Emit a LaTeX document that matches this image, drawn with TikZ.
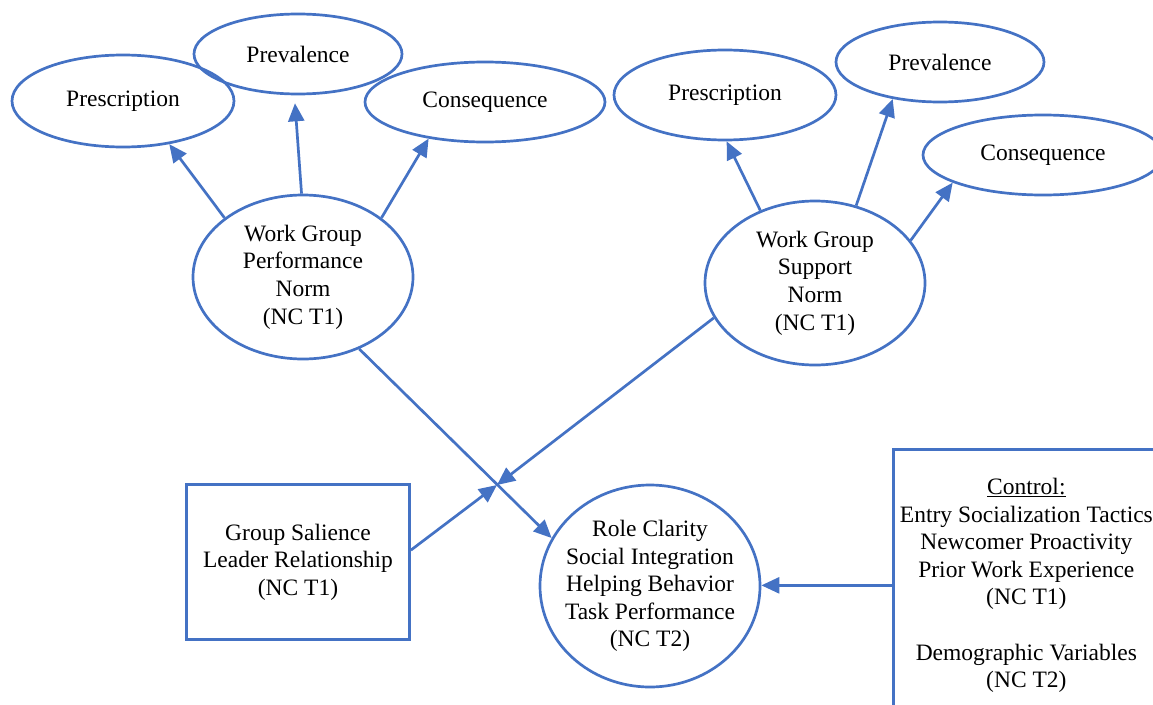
\documentclass[tikz,border=0pt]{standalone}
\usepackage{fontspec}
\setmainfont{Liberation Serif}
\usetikzlibrary{shapes.geometric,arrows.meta}
\definecolor{normblue}{HTML}{4472C4}

\begin{document}
\begin{tikzpicture}[x=1pt, y=-1pt, line width=2.7pt,
  font=\fontsize{23.5}{27.6}\selectfont,
  oval/.style={ellipse, draw=normblue, inner sep=0pt, align=center},
  box/.style={rectangle, draw=normblue, inner sep=0pt, align=center},
  conn/.style={draw=normblue, -{Stealth[length=18pt, width=16pt, inset=0pt]}}]
\clip (0,0) rectangle (1153,704);

% performance norm and its facets
\node[oval, minimum width=220, minimum height=164] (perf) at (303,277) {Work Group\\Performance\\Norm\\(NC T1)};
\node[oval, minimum width=222, minimum height=92] (presL) at (123,101) {Prescription};
\node[oval, minimum width=208, minimum height=80] (prevL) at (298,54) {Prevalence};
\node[oval, minimum width=240, minimum height=80] (consL) at (485,102) {Consequence};

% support norm and its facets
\node[oval, minimum width=220, minimum height=164] (supp) at (815,283) {Work Group\\Support\\Norm\\(NC T1)};
\node[oval, minimum width=222, minimum height=90] (presR) at (725,95) {Prescription};
\node[oval, minimum width=208, minimum height=80] (prevR) at (940,62) {Prevalence};
\node[oval, minimum width=240, minimum height=80] (consR) at (1043,155) {Consequence};

% moderator, outcomes, controls
\node[box, minimum width=223, minimum height=155] (gs) at (298,562) {Group Salience\\Leader Relationship\\(NC T1)};
\node[oval, minimum width=220, minimum height=202] (out) at (650,586) {};
\node[align=center] at (out) {Role Clarity\\Social Integration\\Helping Behavior\\Task Performance\\(NC T2)};
\node[box, minimum width=266, minimum height=272, anchor=north west] (ctl) at (892,448)
  {\underline{Control:}\\Entry Socialization Tactics\\Newcomer Proactivity\\Prior Work Experience\\(NC T1)\\[27.6pt]Demographic Variables\\(NC T2)};
\coordinate (meet) at (497,485);

\draw[conn] (perf.143) -- (presL.-43);
\draw[conn, shorten >=8pt] (perf.91) -- (prevL.-95);
\draw[conn] (perf.37) -- (consL.213);
\draw[conn] (supp.127) -- (presR.-88);
\draw[conn] (supp.62) -- (prevR.218);
\draw[conn] (supp.24) -- (consR.197);
\draw[conn] (perf.-52) -- (out.154);
\draw[conn] (supp.199) -- (meet);
\draw[conn] (gs.6) -- (meet);
\draw[conn] (ctl.west) -- (ctl.west -| out.east);
\end{tikzpicture}
\end{document}
